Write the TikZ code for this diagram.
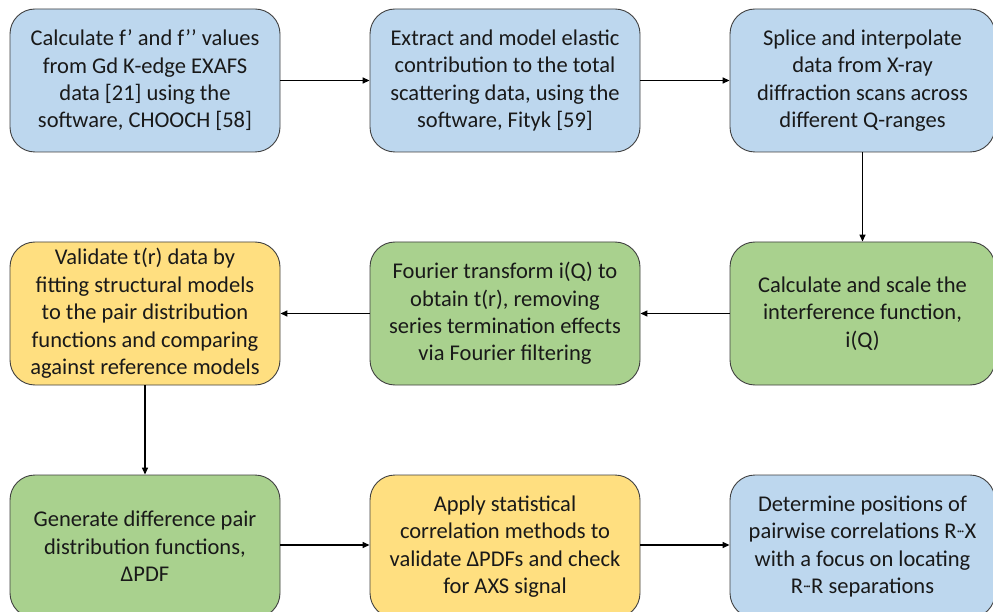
\documentclass[tikz,border=0pt]{standalone}
\usepackage{fontspec}
\setmainfont{Carlito}
\usetikzlibrary{arrows.meta}
\definecolor{bbox}{RGB}{189,215,238}
\definecolor{gbox}{RGB}{169,209,142}
\definecolor{ybox}{RGB}{255,223,128}
\definecolor{edge}{RGB}{64,64,64}
\newcommand{\cdts}{\kern0.3pt{\fontsize{13pt}{13pt}\selectfont\raisebox{3.5pt}{\char"00B7\kern-1.2pt\char"00B7\kern-1.2pt\char"00B7}}\kern0.3pt}
\tikzset{
  stepbox/.style={draw=edge, line width=0.9pt, rounded corners=25pt, align=center,
    minimum width=270pt, minimum height=143pt, inner sep=0pt, text=black!90,
    font=\fontsize{22.5pt}{27.4pt}\selectfont},
  bluebox/.style={stepbox, fill=bbox},
  greenbox/.style={stepbox, fill=gbox},
  yellowbox/.style={stepbox, fill=ybox},
  flow/.style={line width=1.4pt, -{Triangle[length=7pt,width=6pt]}}
}
\begin{document}
\begin{tikzpicture}[x=1pt,y=-1pt]
\useasboundingbox (0,0) rectangle (993,612);
\clip (0,0) rectangle (993,612);
\fill[white] (0,0) rectangle (993,612);
\node[bluebox] (a) at (145,80.5) {Calculate f’ and f’’ values\\from Gd K-edge EXAFS\\data [21] using the\\software, CHOOCH [58]};
\node[bluebox] (b) at (505,80.5) {Extract and model elastic\\contribution to the total\\scattering data, using the\\software, Fityk [59]};
\node[bluebox, minimum width=265pt] (c) at (862.5,80.5) {Splice and interpolate\\data from X-ray\\diffraction scans across\\different Q-ranges};
\node[greenbox, minimum width=265pt] (d) at (862.5,313.5) {Calculate and scale the\\interference function,\\i(Q)};
\node[greenbox] (e) at (505,313.5) {Fourier transform i(Q) to\\obtain t(r), removing\\series termination effects\\via Fourier filtering};
\node[yellowbox] (f) at (145,313.5) {Validate t(r) data by\\fitting structural models\\to the pair distribution\\functions and comparing\\against reference models};
\node[greenbox] (g) at (145,546.5) {Generate difference pair\\distribution functions,\\ΔPDF};
\node[yellowbox] (h) at (505,546.5) {Apply statistical\\correlation methods to\\validate ΔPDFs and check\\for AXS signal};
\node[bluebox, minimum width=265pt] (i) at (862.5,546.5) {Determine positions of\\pairwise correlations R\cdts X\\with a focus on locating\\R\cdts R separations};
\draw[flow] (a) -- (b);
\draw[flow] (b) -- (c);
\draw[flow] (c) -- (d);
\draw[flow] (d) -- (e);
\draw[flow] (e) -- (f);
\draw[flow] (f) -- (g);
\draw[flow] (g.east |- 0,545) -- (h.west |- 0,545);
\draw[flow] (h.east |- 0,545) -- (i.west |- 0,545);
\end{tikzpicture}
\end{document}
